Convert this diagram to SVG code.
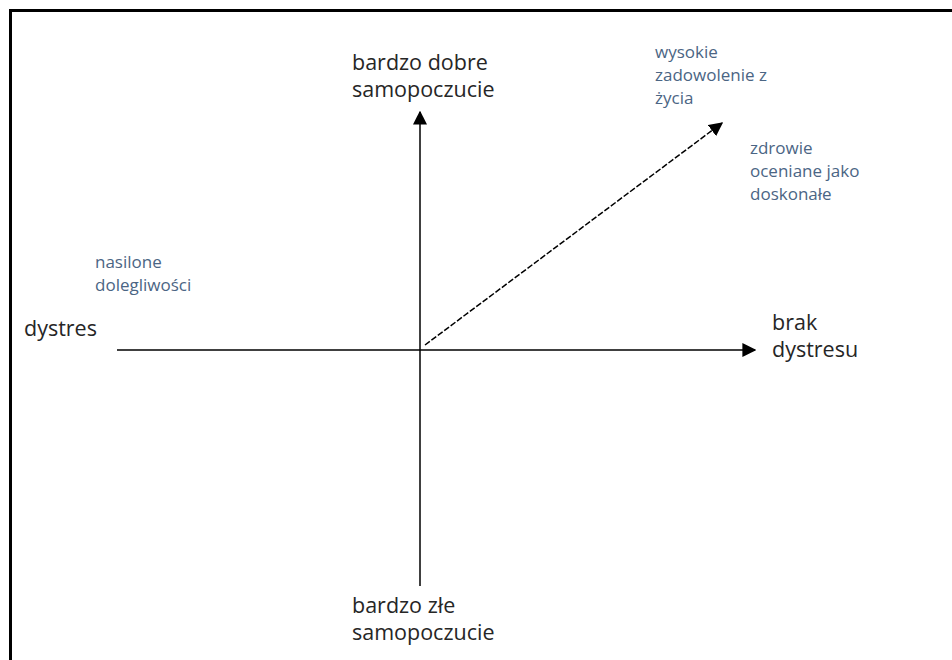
<svg xmlns="http://www.w3.org/2000/svg" width="952" height="660" viewBox="0 0 952 660">
<defs>
<style>
.lbl{font-family:"Open Sans","Liberation Sans",sans-serif;font-size:21.5px;fill:#262626}
.note{font-family:"Open Sans","Liberation Sans",sans-serif;font-size:17px;fill:#4b6584}
.axis{stroke:#000;stroke-width:1.5;fill:none}
</style>
<marker id="ah2" viewBox="0 0 10 10" refX="9" refY="5" markerWidth="14" markerHeight="14" markerUnits="userSpaceOnUse" orient="auto">
<path d="M0,0 L10,5 L0,10 z" fill="#000"/>
</marker>
</defs>
<rect width="952" height="660" fill="#fff"/>
<path d="M10.5,660 V10.5 H952" stroke="#000" stroke-width="3" fill="none"/>
<g id="connectors">
<line class="axis" x1="420" y1="586" x2="420" y2="112" marker-end="url(#ah2)"/>
<line class="axis" x1="117" y1="350" x2="755" y2="350" marker-end="url(#ah2)"/>
<line class="axis" x1="425" y1="345" x2="722" y2="123" stroke-dasharray="6,2" marker-end="url(#ah2)"/>
</g>
<g id="top"><text class="lbl" x="352" y="70">bardzo dobre</text><text class="lbl" x="352" y="97">samopoczucie</text></g>
<g id="bottom"><text class="lbl" x="352" y="613">bardzo złe</text><text class="lbl" x="352" y="640">samopoczucie</text></g>
<g id="left"><text class="lbl" x="24" y="336">dystres</text></g>
<g id="right"><text class="lbl" x="772" y="330">brak</text><text class="lbl" x="772" y="357">dystresu</text></g>
<g id="note1"><text class="note" x="655" y="58">wysokie</text><text class="note" x="655" y="81">zadowolenie z</text><text class="note" x="655" y="104">życia</text></g>
<g id="note2"><text class="note" x="750" y="154">zdrowie</text><text class="note" x="750" y="177">oceniane jako</text><text class="note" x="750" y="200">doskonałe</text></g>
<g id="note3"><text class="note" x="95" y="268">nasilone</text><text class="note" x="95" y="291">dolegliwości</text></g>
</svg>
